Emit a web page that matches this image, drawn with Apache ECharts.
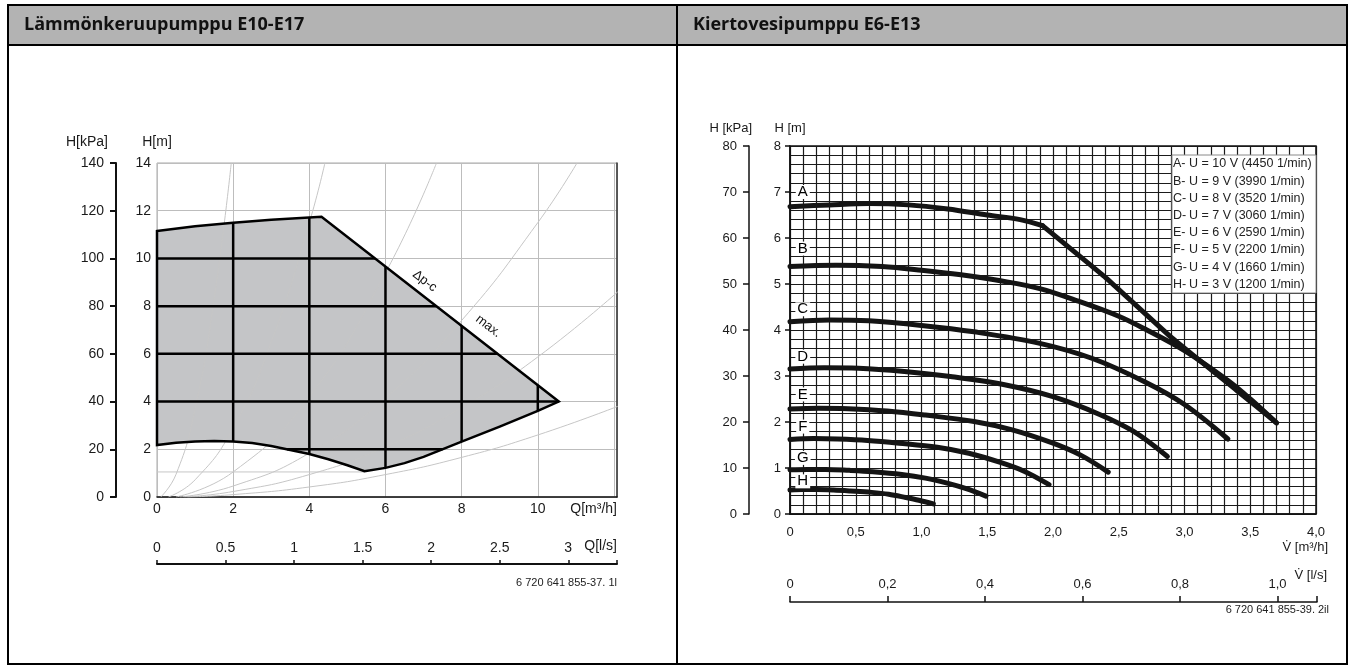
<!DOCTYPE html>
<html><head><meta charset="utf-8">
<script src="https://cdn.jsdelivr.net/npm/echarts@6/dist/echarts.min.js"></script>
<style>html,body{margin:0;padding:0;background:#fff}#c{width:1355px;height:672px}</style>
</head><body><div id="c"></div>
<script>
// ================= DATA =================
const leftTitle = 'Lämmönkeruupumppu E10-E17';
const rightTitle = 'Kiertovesipumppu E6-E13';

// Left chart: operating field (Q m3/h, H m)
const fieldUpper = [[0,11.15],[1,11.35],[2,11.5],[3,11.62],[4.32,11.75],[10.55,4.0]];
const fieldLowerRight = [[10.55,4.0],[10,3.61],[9,2.95],[8,2.32],[7,1.68],[6.5,1.42],[6,1.22],[5.45,1.08]];
const fieldLowerLeft = [[5.45,1.08],[5,1.33],[4.5,1.58],[4,1.8],[3.5,1.97],[3,2.14],[2.5,2.26],[2,2.33],[1.5,2.35],[1,2.33],[0.5,2.27],[0,2.18]];
// light system curves
const sys1 = [[0.1,0],[0.5,0.95],[1,3.7],[1.5,8.3],[1.95,14]];
const sys2 = [[0.3,0],[1,0.72],[2,2.9],[3,6.5],[4,11.5],[4.41,14]];
const sys3 = [[0.5,0],[2,1.05],[4,4.2],[6,9.4],[7.34,14]];
const sys4 = [[0.6,0],[2,0.46],[4,1.84],[6,4.15],[8,7.4],[10,11.5],[11.03,14]];
const sys5 = [[0.7,0],[2,0.23],[4,0.94],[6,2.1],[8,3.75],[10,5.87],[12.1,8.6]];
const sys6 = [[0.8,0],[2,0.1],[4,0.42],[6,0.94],[8,1.66],[10,2.6],[12.1,3.8]];
const minLine = [[0,1.05],[5.45,1.05]];
const fieldNotes = [{name:'Δp-c', value:[7.03,9.05]}, {name:'max.', value:[8.7,7.16]}];
const leftQmax = 12.08;            // m3/h at right plot edge
const leftLsMax = 12.08 / 3.6;     // l/s at right plot edge

// Right chart: pump curves (V m3/h, H m)
const curveA1 = [[0,6.68],[0.3,6.72],[0.6,6.75],[0.9,6.72],[1.2,6.63],[1.5,6.5],[1.75,6.4],[1.92,6.27]];
const curveA2 = [[1.92,6.27],[2.4,5.14],[2.9,3.84],[3.4,2.68],[3.7,1.98]];
const curveB = [[0,5.38],[0.35,5.41],[0.7,5.38],[1.0,5.3],[1.3,5.2],[1.6,5.07],[1.9,4.9],[2.2,4.62],[2.5,4.3],[2.7,4.02],[3.0,3.55],[3.33,2.9],[3.5,2.5],[3.7,1.98]];
const curveC = [[0,4.18],[0.3,4.22],[0.6,4.2],[1.0,4.1],[1.4,3.96],[1.9,3.71],[2.3,3.38],[2.7,2.87],[3.0,2.38],[3.33,1.63]];
const curveD = [[0,3.15],[0.26,3.18],[0.52,3.17],[0.87,3.1],[1.22,2.99],[1.65,2.8],[2.0,2.55],[2.35,2.17],[2.61,1.8],[2.87,1.25]];
const curveE = [[0,2.28],[0.22,2.3],[0.44,2.29],[0.74,2.24],[1.03,2.15],[1.4,2.01],[1.69,1.83],[1.99,1.55],[2.21,1.28],[2.42,0.91]];
const curveF = [[0,1.62],[0.18,1.64],[0.36,1.63],[0.59,1.6],[0.83,1.54],[1.12,1.45],[1.36,1.32],[1.6,1.12],[1.78,0.93],[1.97,0.64]];
const curveG = [[0,0.96],[0.134,0.97],[0.27,0.97],[0.45,0.95],[0.63,0.92],[0.85,0.86],[1.03,0.78],[1.21,0.66],[1.34,0.55],[1.49,0.39]];
const curveH = [[0,0.52],[0.1,0.53],[0.2,0.53],[0.33,0.52],[0.46,0.5],[0.62,0.47],[0.75,0.43],[0.88,0.36],[0.98,0.3],[1.09,0.22]];
const curveLetters = [{name:'A',value:[0.097,7.0]},{name:'B',value:[0.097,5.77]},{name:'C',value:[0.097,4.45]},{name:'D',value:[0.097,3.42]},{name:'E',value:[0.097,2.6]},{name:'F',value:[0.097,1.9]},{name:'G',value:[0.097,1.22]},{name:'H',value:[0.097,0.71]}];
const legendLetters = ['A','B','C','D','E','F','G','H'];
const legendTexts = ['U = 10 V (4450 1/min)','U = 9 V (3990 1/min)','U = 8 V (3520 1/min)','U = 7 V (3060 1/min)','U = 6 V (2590 1/min)','U = 5 V (2200 1/min)','U = 4 V (1660 1/min)','U = 3 V (1200 1/min)'];
const rightLsMax = 4.0 / 3.7;
const rightLsTicks = [0, 0.2, 0.4, 0.6, 0.8, 1.0, rightLsMax];
const footLeft = '6 720 641 855-37. 1l';
const footRight = '6 720 641 855-39. 2il';

// ================= HELPERS =================
const FONT = 'Arial, "Liberation Sans", sans-serif';
const fieldPoly = fieldUpper.concat(fieldLowerRight.slice(1), fieldLowerLeft.slice(1));
function inPoly(x, y, poly) {
  let c = false;
  for (let i = 0, j = poly.length - 1; i < poly.length; j = i++) {
    const xi = poly[i][0], yi = poly[i][1], xj = poly[j][0], yj = poly[j][1];
    if (((yi > y) !== (yj > y)) && (x < (xj - xi) * (y - yi) / (yj - yi) + xi)) c = !c;
  }
  return c;
}
function runs(fixed, vertical, lo, hi) {
  const out = []; const step = 0.004; let start = null, last = null;
  for (let t = lo; t <= hi + 1e-9; t += step) {
    const ins = vertical ? inPoly(fixed, t, fieldPoly) : inPoly(t, fixed, fieldPoly);
    if (ins && start === null) start = t;
    if (ins) last = t;
    if (!ins && start !== null) { out.push([start, last]); start = null; }
  }
  if (start !== null) out.push([start, last]);
  return out;
}
const innerSegs = [];
[2,4,6,8,10].forEach(q => runs(q, true, 0, 14).forEach(r => innerSegs.push([[q, r[0]], [q, r[1]]])));
[2,4,6,8,10,12].forEach(h => runs(h, false, 0, leftQmax).forEach(r => innerSegs.push([[r[0], h], [r[1], h]])));

function sysSeries(d) {
  return {type:'line', xAxisIndex:0, yAxisIndex:0, data:d, smooth:true, symbol:'none', silent:true, z:2,
    lineStyle:{color:'#c6c6c6', width:1}};
}
function pumpSeries(d, smooth) {
  return {type:'line', xAxisIndex:2, yAxisIndex:3, data:d, smooth:smooth, symbol:'none', silent:true, z:3,
    lineStyle:{color:'#141414', width:5, cap:'round', join:'round'}};
}
function textSeries(xi, yi, data, styleFn, z) {
  return {type:'custom', xAxisIndex:xi, yAxisIndex:yi, data:data, z:z, silent:true,
    renderItem:(p, api) => {
      const d = data[p.dataIndex];
      const pt = api.coord(d.value);
      return styleFn(d, pt);
    }};
}
const decComma = v => v === 0 ? '0' : v.toFixed(1).replace('.', ',');

// ================= GRAPHICS =================
const graphics = [
  {type:'rect', z:50, shape:{x:8,y:5,width:1339,height:40}, style:{fill:'#b3b3b3'}},
  {type:'rect', z:60, shape:{x:8,y:5,width:1339,height:659}, style:{fill:'none', stroke:'#000', lineWidth:2}},
  {type:'line', z:60, shape:{x1:677,y1:5,x2:677,y2:664}, style:{stroke:'#000', lineWidth:2}},
  {type:'line', z:60, shape:{x1:8,y1:45,x2:1347,y2:45}, style:{stroke:'#000', lineWidth:2}},
  {type:'text', z:61, style:{text:leftTitle, x:24, y:25, font:'bold 18px "Open Sans", sans-serif', fill:'#111', verticalAlign:'middle'}},
  {type:'text', z:61, style:{text:rightTitle, x:693, y:25, font:'bold 18px "Open Sans", sans-serif', fill:'#111', verticalAlign:'middle'}},
  {type:'text', z:61, style:{text:footLeft, x:617, y:583, font:'11px ' + FONT, fill:'#222', align:'right', verticalAlign:'middle'}},
  {type:'text', z:61, style:{text:footRight, x:1329, y:610, font:'11px ' + FONT, fill:'#222', align:'right', verticalAlign:'middle'}},
  {type:'rect', z:70, shape:{x:1172,y:155,width:144,height:138}, style:{fill:'#fff', stroke:'#8a8a8a', lineWidth:1}}
];
legendLetters.forEach((l, i) => {
  const y = 164 + i * 17.2;
  graphics.push({type:'text', z:71, style:{text:l + '-', x:1173, y:y, font:'12.5px ' + FONT, fill:'#222', verticalAlign:'middle'}});
  graphics.push({type:'text', z:71, style:{text:legendTexts[i], x:1189, y:y, font:'12.5px ' + FONT, fill:'#222', verticalAlign:'middle'}});
});

// ================= OPTION =================
const axisText = {color:'#1a1a1a', fontFamily:FONT};
const option = {
  animation:false,
  backgroundColor:'#fff',
  textStyle:{fontFamily:FONT},
  grid:[
    {left:157, top:163, width:460, height:334, show:true, borderColor:'#a8a8a8', borderWidth:1, backgroundColor:'transparent', containLabel:false, outerBoundsMode:'none'},
    {left:157, top:563, width:460, height:1, containLabel:false, outerBoundsMode:'none'},
    {left:790, top:146, width:526, height:368, show:true, borderColor:'#111', borderWidth:1.5, containLabel:false, outerBoundsMode:'none'},
    {left:790, top:601, width:527, height:1, containLabel:false, outerBoundsMode:'none'}
  ],
  xAxis:[
    {gridIndex:0, type:'value', min:0, max:leftQmax, interval:2,
      axisLine:{show:true, onZero:false, lineStyle:{color:'#111', width:1.5}}, axisTick:{show:false},
      axisLabel:Object.assign({fontSize:14, margin:5, formatter:v => v > 11 ? '' : String(v)}, axisText),
      splitLine:{show:true, lineStyle:{color:'#bdbdbd', width:1}},
      name:'Q[m³/h]', nameLocation:'end', nameGap:0, nameMoveOverlap:false,
      nameTextStyle:{fontSize:14, color:'#1a1a1a', align:'right', verticalAlign:'top', padding:[5,0,0,0]}},
    {gridIndex:1, type:'value', min:0, max:leftLsMax, interval:0.5, position:'bottom',
      axisLine:{show:true, onZero:false, lineStyle:{color:'#111', width:2}},
      axisTick:{show:true, inside:true, length:4, lineStyle:{color:'#111', width:1.5}},
      axisLabel:Object.assign({inside:true, fontSize:14, margin:9, formatter:v => v > 3.2 ? '' : String(v)}, axisText),
      splitLine:{show:false},
      name:'Q[l/s]', nameLocation:'end', nameGap:0, nameMoveOverlap:false,
      nameTextStyle:{fontSize:14, color:'#1a1a1a', align:'right', verticalAlign:'bottom', padding:[0,0,11,0]}},
    {gridIndex:2, type:'value', min:0, max:4, interval:0.5,
      axisLine:{show:true, onZero:false, lineStyle:{color:'#111', width:1.5}}, axisTick:{show:false},
      axisLabel:Object.assign({fontSize:13, margin:12, formatter:decComma}, axisText),
      splitLine:{show:true, lineStyle:{color:'#1a1a1a', width:1.2}},
      minorTick:{show:false, splitNumber:5},
      minorSplitLine:{show:true, lineStyle:{color:'#1a1a1a', width:1.2}},
      name:'V̇ [m³/h]', nameLocation:'end', nameGap:12, nameMoveOverlap:false,
      nameTextStyle:{fontSize:13, color:'#1a1a1a', align:'right', verticalAlign:'top', padding:[27,0,0,0]}},
    {gridIndex:3, type:'value', min:0, max:rightLsMax, interval:0.2, position:'bottom',
      axisLine:{show:true, onZero:false, lineStyle:{color:'#111', width:1.5}},
      axisTick:{show:true, inside:true, length:6, customValues:rightLsTicks, lineStyle:{color:'#111', width:1.5}},
      axisLabel:Object.assign({inside:true, fontSize:13, margin:11, formatter:v => v > 1.05 ? '' : decComma(v)}, axisText),
      splitLine:{show:false},
      name:'V̇ [l/s]', nameLocation:'end', nameGap:10, nameMoveOverlap:false,
      nameTextStyle:{fontSize:13, color:'#1a1a1a', align:'right', verticalAlign:'bottom', padding:[0,0,20,0]}}
  ],
  yAxis:[
    {gridIndex:0, type:'value', min:0, max:14, interval:2, position:'left',
      axisLine:{show:false}, axisTick:{show:false},
      axisLabel:Object.assign({fontSize:14, margin:6}, axisText),
      splitLine:{show:true, lineStyle:{color:'#bdbdbd', width:1}},
      name:'H[m]', nameLocation:'end', nameGap:14,
      nameTextStyle:{fontSize:14, color:'#1a1a1a', align:'center'}},
    {gridIndex:0, type:'value', min:0, max:140, interval:20, position:'left', offset:41,
      axisLine:{show:true, lineStyle:{color:'#111', width:2}},
      axisTick:{show:true, length:6, lineStyle:{color:'#111', width:2}},
      axisLabel:Object.assign({fontSize:14, margin:12}, axisText),
      splitLine:{show:false},
      name:'H[kPa]', nameLocation:'end', nameGap:14,
      nameTextStyle:{fontSize:14, color:'#1a1a1a', align:'right', padding:[0,8,0,0]}},
    {gridIndex:0, type:'value', min:0, max:14, position:'right',
      axisLine:{show:true, lineStyle:{color:'#333', width:1.5}}, axisTick:{show:false}, axisLabel:{show:false}, splitLine:{show:false}},
    {gridIndex:2, type:'value', min:0, max:8, interval:1, position:'left',
      axisLine:{show:true, lineStyle:{color:'#111', width:1.5}},
      axisTick:{show:true, length:5, lineStyle:{color:'#111', width:1.5}},
      axisLabel:Object.assign({fontSize:13, margin:9}, axisText),
      splitLine:{show:true, lineStyle:{color:'#1a1a1a', width:1.2}},
      minorTick:{show:false, splitNumber:5},
      minorSplitLine:{show:true, lineStyle:{color:'#1a1a1a', width:1.2}},
      name:'H [m]', nameLocation:'end', nameGap:11,
      nameTextStyle:{fontSize:13, color:'#1a1a1a', align:'center'}},
    {gridIndex:2, type:'value', min:0, max:80, interval:10, position:'left', offset:41,
      axisLine:{show:true, lineStyle:{color:'#111', width:1.5}},
      axisTick:{show:true, length:6, lineStyle:{color:'#111', width:1.5}},
      axisLabel:Object.assign({fontSize:13, margin:12}, axisText),
      splitLine:{show:false},
      name:'H [kPa]', nameLocation:'end', nameGap:11,
      nameTextStyle:{fontSize:13, color:'#1a1a1a', align:'right', padding:[0,-3,0,0]}},
    {gridIndex:1, type:'value', show:false},
    {gridIndex:3, type:'value', show:false}
  ],
  graphic:{elements:graphics},
  series:[
    {type:'custom', xAxisIndex:0, yAxisIndex:0, data:[[0,0]], z:1, silent:true,
      renderItem:(p, api) => ({type:'polygon', shape:{points:fieldPoly.map(pt => api.coord(pt))}, style:{fill:'#c4c5c7'}})},
    sysSeries(sys1), sysSeries(sys2), sysSeries(sys3), sysSeries(sys4), sysSeries(sys5), sysSeries(sys6),
    {type:'line', xAxisIndex:0, yAxisIndex:0, data:minLine, symbol:'none', silent:true, z:2, lineStyle:{color:'#c6c6c6', width:1}},
    {type:'custom', xAxisIndex:0, yAxisIndex:0, data:[[0,0]], z:3, silent:true,
      renderItem:(p, api) => ({type:'group', children:innerSegs.map(s => {
        const a = api.coord(s[0]), b = api.coord(s[1]);
        return {type:'line', shape:{x1:a[0], y1:a[1], x2:b[0], y2:b[1]}, style:{stroke:'#000', lineWidth:2.5}};
      })})},
    {type:'custom', xAxisIndex:0, yAxisIndex:0, data:[[0,0]], z:4, silent:true,
      renderItem:(p, api) => ({type:'polygon', shape:{points:fieldPoly.map(pt => api.coord(pt))}, style:{fill:'none', stroke:'#000', lineWidth:2.5, lineJoin:'miter'}})},
    textSeries(0, 0, fieldNotes, (d, pt) => ({type:'text', x:pt[0], y:pt[1], rotation:-37.6 * Math.PI / 180,
      style:{text:d.name, fill:'#111', font:'13px ' + FONT, align:'center', verticalAlign:'middle'}}), 5),
    pumpSeries(curveH, 0.35), pumpSeries(curveG, 0.35), pumpSeries(curveF, 0.35), pumpSeries(curveE, 0.35),
    pumpSeries(curveD, 0.35), pumpSeries(curveC, 0.35), pumpSeries(curveB, 0.35),
    pumpSeries(curveA1, 0.35), pumpSeries(curveA2, 0.1),
    textSeries(2, 3, curveLetters, (d, pt) => ({type:'text', x:pt[0], y:pt[1],
      style:{text:d.name, fill:'#000', font:'15px ' + FONT, align:'center', verticalAlign:'middle',
        backgroundColor:'#fff', padding:[1,2,0,2], lineHeight:13}}), 6)
  ]
};
const chart = echarts.init(document.getElementById('c'));
chart.setOption(option);
</script>
</body></html>
